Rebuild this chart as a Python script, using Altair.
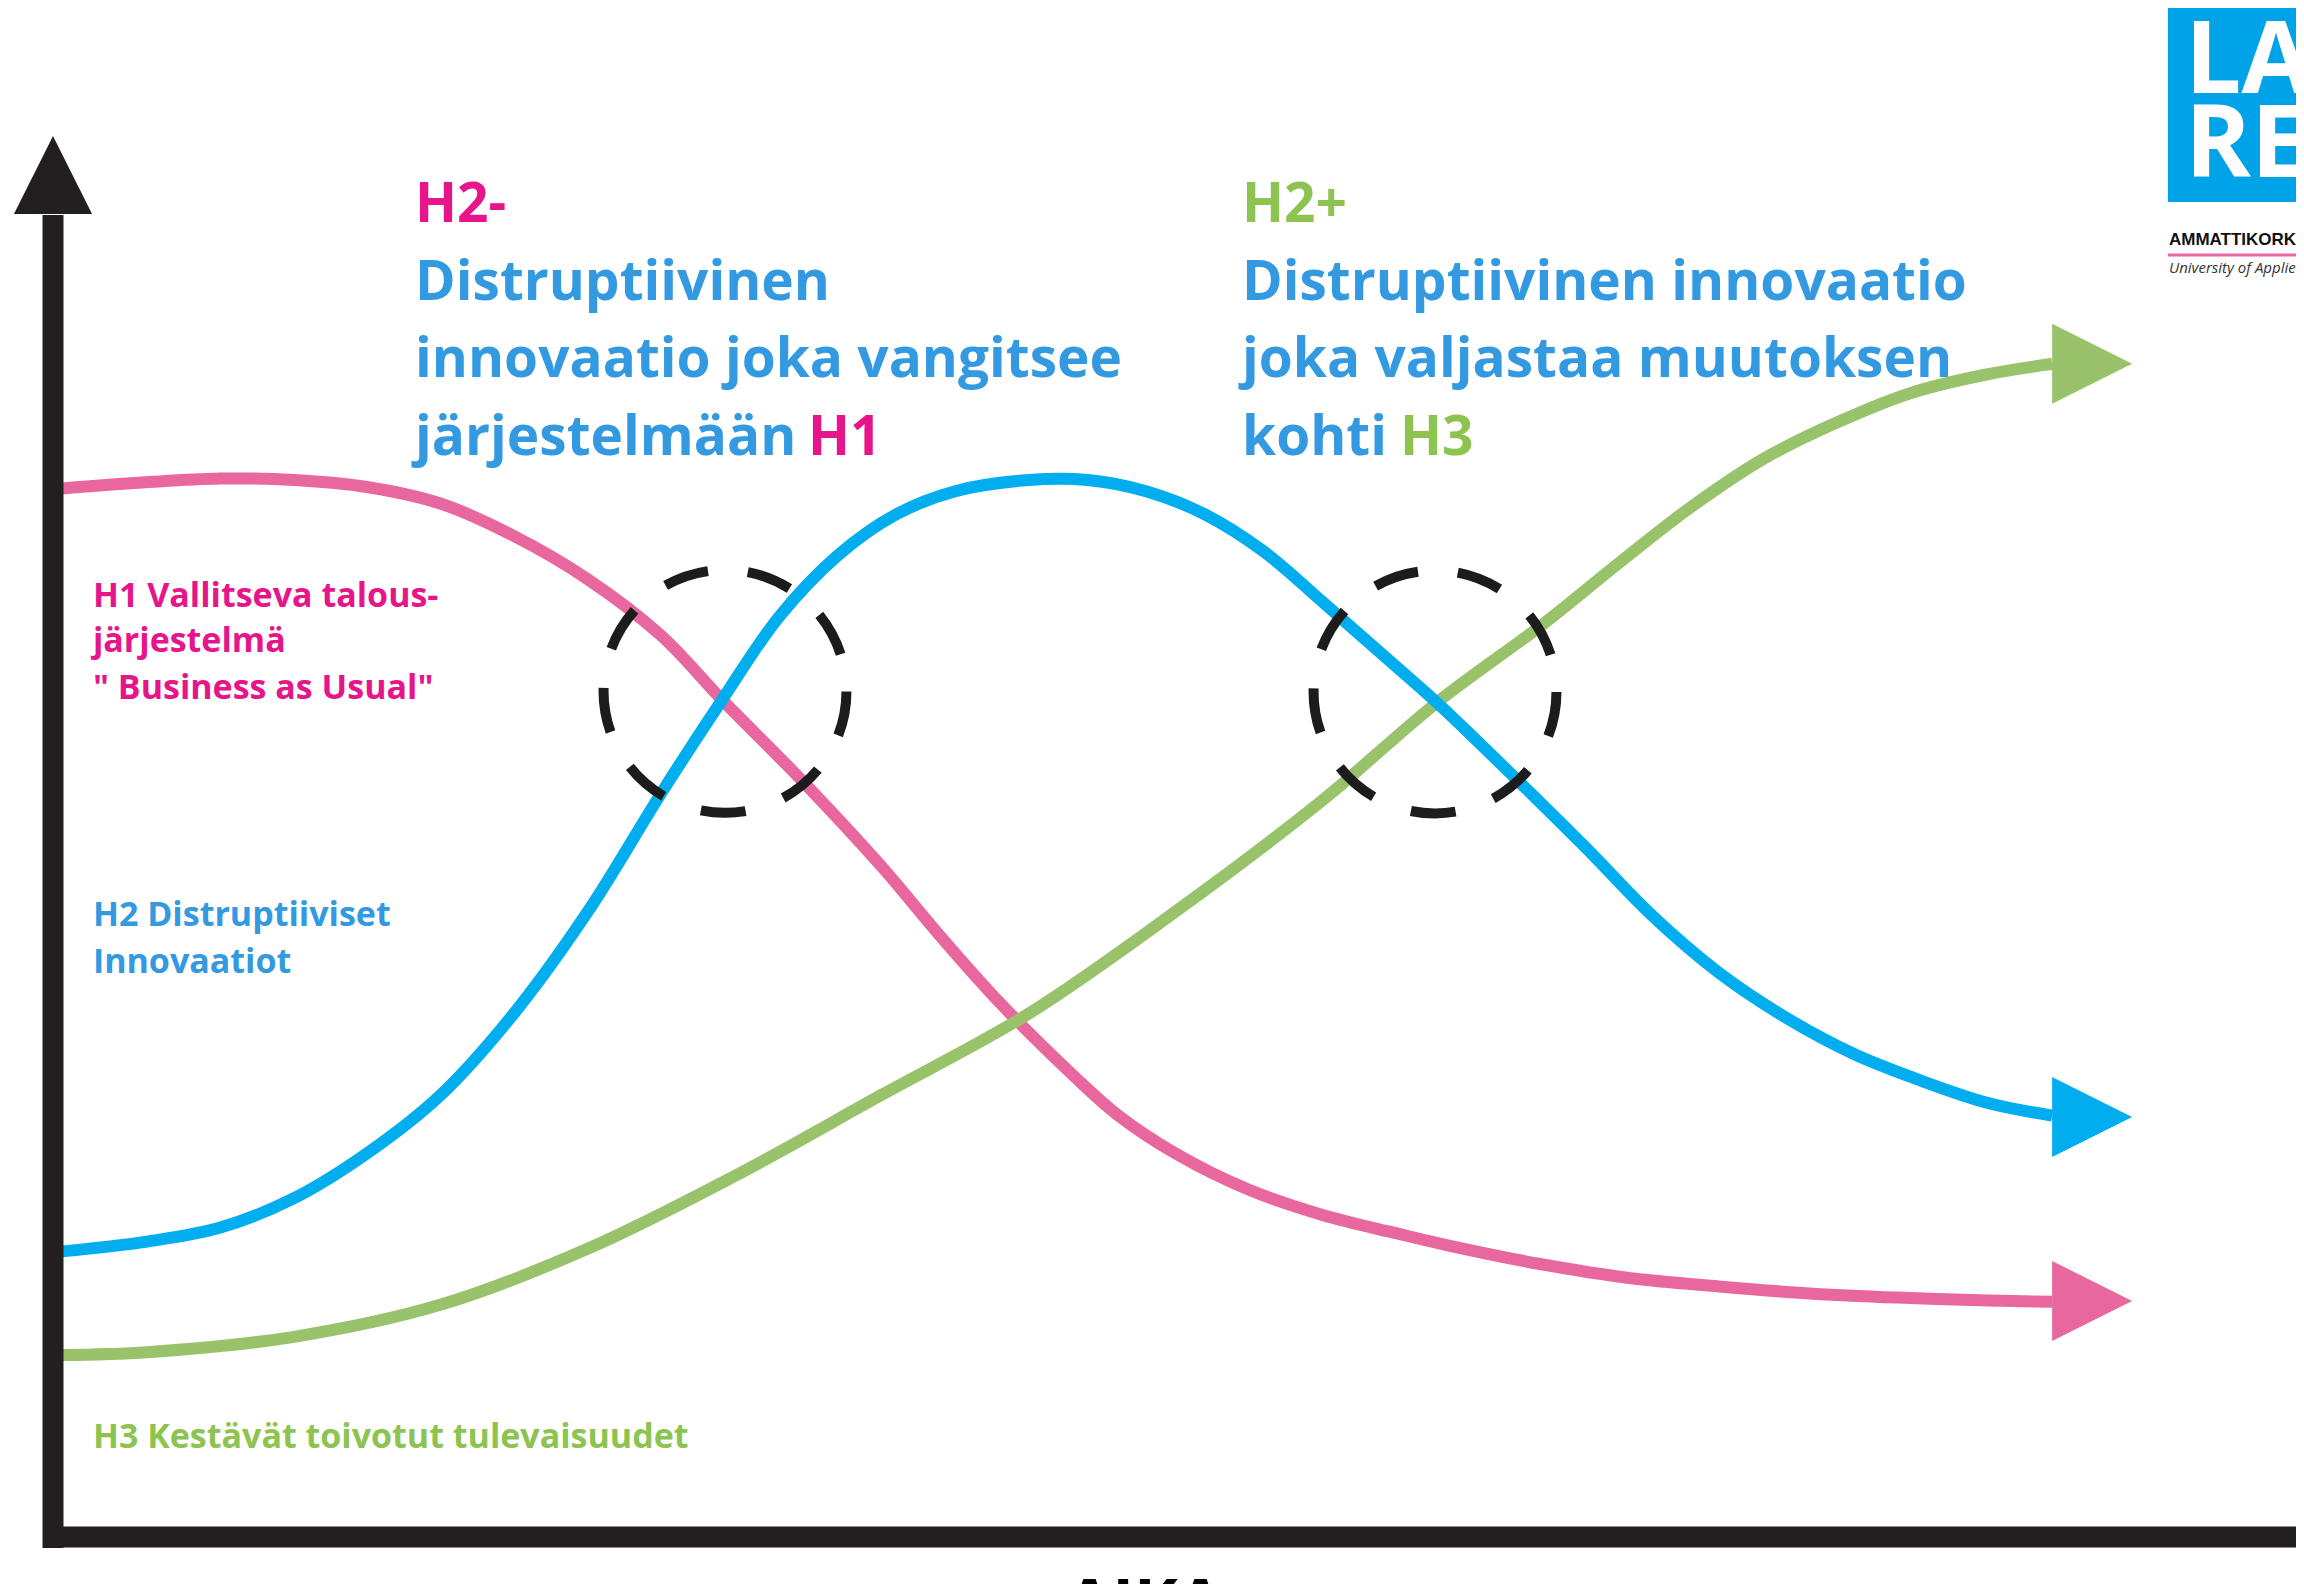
import altair as alt
import pandas as pd

# ---------------- data (time t, level v) ----------------
h1_t = [0.43, 7.95, 11.48, 14.95, 18.48, 21.95, 25.48, 28.95, 31.86, 35.62, 39.45, 42.26, 45.06,
        48.56, 50.65, 53.45, 56.95, 60.45, 63.95, 66.52, 70.81, 75.05, 79.33, 83.62, 87.86, 92.14, 95.2]
h1_v = [74.9, 75.6, 75.5, 75.0, 73.8, 71.5, 68.4, 64.4, 59.8, 54.1, 47.9, 42.9, 38.2,
        33.0, 30.2, 27.4, 24.8, 23.0, 21.7, 20.8, 19.5, 18.5, 17.9, 17.4, 17.1, 16.9, 16.8]

h2_t = [0.43, 4.48, 7.97, 11.48, 14.95, 18.48, 21.95, 25.48, 28.95, 31.86, 34.56, 37.36, 40.16,
        42.96, 46.46, 49.26, 52.05, 54.85, 57.65, 60.45, 63.25, 65.9, 69.71, 72.95, 76.14, 79.33,
        82.52, 85.76, 88.95, 92.14, 95.2]
h2_v = [20.4, 21.1, 22.1, 24.2, 27.4, 31.6, 37.4, 44.7, 53.1, 59.8, 65.7, 70.1, 73.05,
        74.7, 75.5, 75.5, 74.7, 73.05, 70.4, 66.8, 63.1, 59.6, 54.1, 49.3, 44.4, 40.3,
        37.1, 34.5, 32.6, 31.0, 30.1]

h3_t = [0.43, 4.48, 11.48, 18.48, 25.48, 32.48, 39.48, 46.48, 53.48, 60.43, 65.9, 70.95,
        74.43, 77.94, 81.44, 84.94, 88.44, 91.94, 95.2]
h3_v = [13.0, 13.2, 14.3, 16.6, 20.6, 25.8, 31.6, 37.4, 44.7, 52.6, 59.6, 65.2,
        69.4, 73.5, 77.0, 79.6, 81.7, 83.0, 83.8]

arrow_t = [97.1, 97.1, 97.1]
arrow_v = [16.86, 30.0, 83.8]
arrow_series = ["H1", "H2", "H3"]

circle_t = [32.0, 65.81]
circle_v = [60.4, 60.36]

title_text = ["H2-", "Distruptiivinen", "innovaatio joka vangitsee", "järjestelmään", "H1",
              "H2+", "Distruptiivinen innovaatio", "joka valjastaa muutoksen", "kohti", "H3"]
title_t = [17.24, 17.24, 17.24, 17.24, 35.95, 56.62, 56.62, 56.62, 56.62, 64.14]
title_v = [93.93, 88.36, 82.86, 77.29, 77.29, 93.93, 88.36, 82.86, 77.29, 77.29]
title_col = ["pink", "blue", "blue", "blue", "pink", "green", "blue", "blue", "blue", "green"]

label_text = ["H1 Vallitseva talous-", "järjestelmä", "\" Business as Usual\"",
              "H2 Distruptiiviset", "Innovaatiot", "H3 Kestävät toivotut tulevaisuudet"]
label_t = [1.9, 1.9, 1.9, 1.9, 1.9, 1.9]
label_v = [66.43, 63.2, 59.86, 43.64, 40.29, 6.36]
label_col = ["pink", "pink", "pink", "blue", "blue", "green"]

x_label = ["AIKA"]

# ---------------- styling ----------------
TXT = {"pink": "#e6168a", "blue": "#3399e0", "green": "#8dc451"}
CURVE = {"H1": "#e8679f", "H2": "#00aeef", "H3": "#98c36b"}
AXIS_COL = "#231f20"

W, H = 2288, 1576
X0, PXT = 45.0, 21.0     # chart px of t=0, px per unit t
Y0, PXV = 1529.0, 14.0   # chart px of v=0, px per unit v
XS = alt.Scale(domain=[(0 - X0) / PXT, (W - X0) / PXT], nice=False, zero=False)
YS = alt.Scale(domain=[(Y0 - H) / PXV, Y0 / PXV], nice=False, zero=False)


def X(f="t"):
    return alt.X(f"{f}:Q", scale=XS, axis=None)


def Y(f="v"):
    return alt.Y(f"{f}:Q", scale=YS, axis=None)


def curve(ts, vs, key):
    df = pd.DataFrame({"t": ts, "v": vs})
    return alt.Chart(df).mark_line(color=CURVE[key], strokeWidth=12, interpolate="catmull-rom").encode(
        x=X(), y=Y(), order="t:Q")


lines = [curve(h1_t, h1_v, "H1"), curve(h3_t, h3_v, "H3"), curve(h2_t, h2_v, "H2")]

arrows_df = pd.DataFrame({"t": arrow_t, "v": arrow_v, "s": arrow_series})
arrows = alt.Chart(arrows_df).mark_point(shape="M-1,-1L1,0L-1,1Z", size=6400, filled=True, opacity=1,
                                         strokeWidth=0).encode(
    x=X(), y=Y(),
    color=alt.Color("s:N", scale=alt.Scale(domain=list(CURVE.keys()), range=list(CURVE.values())), legend=None))

circles = alt.Chart(pd.DataFrame({"t": circle_t, "v": circle_v})).mark_point(
    shape="circle", size=59000, filled=False, stroke="#1c1c1c", strokeWidth=10,
    strokeDash=[45, 40], opacity=1).encode(x=X(), y=Y())

# axes drawn as arrows
axis_df = pd.DataFrame({"t": [0.0], "v0": [-0.79], "v1": [94.43], "t0": [-0.476], "t1": [112.0], "h": [0.0]})
y_axis = alt.Chart(axis_df).mark_rule(color=AXIS_COL, strokeWidth=21).encode(
    x=X("t"), y=Y("v0"), y2="v1:Q")
x_axis = alt.Chart(axis_df).mark_rule(color=AXIS_COL, strokeWidth=21).encode(
    x=X("t0"), x2="t1:Q", y=Y("h"))
y_head = alt.Chart(pd.DataFrame({"t": [0.0], "v": [97.29]})).mark_point(
    shape="M-1,1L0,-1L1,1Z", size=6100, filled=True, color=AXIS_COL, opacity=1, strokeWidth=0).encode(
    x=X(), y=Y())

# texts
tdf = pd.DataFrame({"text": title_text, "t": title_t, "v": title_v,
                    "c": [TXT[c] for c in title_col]})
titles = alt.Chart(tdf).mark_text(font="Open Sans", fontWeight="bold", fontSize=55, align="left",
                                  baseline="alphabetic").encode(
    x=X(), y=Y(), text="text:N", color=alt.Color("c:N", scale=None))

ldf = pd.DataFrame({"text": label_text, "t": label_t, "v": label_v,
                    "c": [TXT[c] for c in label_col]})
labels = alt.Chart(ldf).mark_text(font="Open Sans", fontWeight="bold", fontSize=34, align="left",
                                  baseline="alphabetic").encode(
    x=X(), y=Y(), text="text:N", color=alt.Color("c:N", scale=None))

aika = alt.Chart(pd.DataFrame({"text": x_label, "t": [52.0], "v": [-2.71]})).mark_text(
    font="Open Sans", fontWeight="bold", fontSize=66, align="center", baseline="top", color="#000000").encode(
    x=X(), y=Y(), text="text:N")

# logo (cut off at the right edge)
logo_box = alt.Chart(pd.DataFrame({"t0": [100.71], "t1": [115.0], "v0": [95.36], "v1": [115.0]})).mark_rect(
    color="#00a3e8").encode(x=X("t0"), x2="t1:Q", y=Y("v0"), y2="v1:Q")
logo_txt = alt.Chart(pd.DataFrame({"text": ["LAU", "REA"],
                                   "t": [101.52, 101.52], "v": [103.14, 97.14]})).mark_text(
    font="Open Sans", fontWeight="bold", fontSize=100, align="left", baseline="alphabetic",
    color="#ffffff").encode(x=X(), y=Y(), text="text:N")
logo_sub = alt.Chart(pd.DataFrame({"text": ["AMMATTIKORKEAKOULU"], "t": [100.76], "v": [92.29]})).mark_text(
    font="Liberation Sans", fontWeight="bold", fontSize=17, align="left", baseline="alphabetic",
    color="#111111").encode(x=X(), y=Y(), text="text:N")
logo_line = alt.Chart(pd.DataFrame({"t0": [100.71], "t1": [115.0], "v": [91.57]})).mark_rule(
    color="#e8679f", strokeWidth=3).encode(x=X("t0"), x2="t1:Q", y=Y("v"))
logo_uni = alt.Chart(pd.DataFrame({"text": ["University of Applied Sciences"], "t": [100.76], "v": [90.3]})).mark_text(
    font="Open Sans", fontStyle="italic", fontSize=15, align="left", baseline="alphabetic",
    color="#333333").encode(x=X(), y=Y(), text="text:N")

chart = alt.layer(
    *lines, arrows, circles, x_axis, y_axis, y_head, titles, labels, aika,
    logo_box, logo_txt, logo_sub, logo_line, logo_uni
).properties(width=W, height=H, padding=0, autosize="none", background="#ffffff").configure_view(stroke=None)

chart.save("out.html", embed_options={"renderer": "svg", "actions": False})
